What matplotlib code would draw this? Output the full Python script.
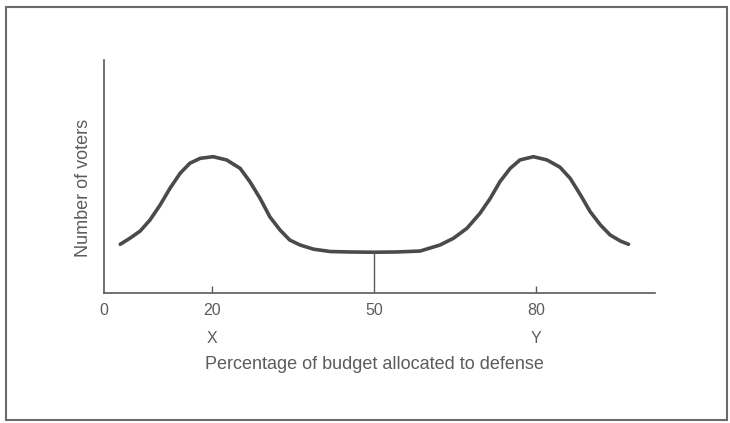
import matplotlib
matplotlib.use("Agg")
from matplotlib import pyplot as plt
from matplotlib.patches import Rectangle

# curve (x = % of budget, y = relative number of voters)
pct = [3.0, 4.8, 6.7, 8.5, 10.4, 12.2, 14.1, 15.9, 17.8, 20.2, 22.7, 25.2,
       27.0, 28.9, 30.7, 32.6, 34.4, 36.3, 38.8, 41.9, 45.6, 50.0, 54.1,
       58.5, 62.2, 64.7, 67.2, 69.6, 71.5, 73.3, 75.2, 77.0, 79.5, 82.0,
       84.4, 86.3, 88.2, 90.0, 91.9, 93.7, 95.6, 97.1]
voters = [20.9, 23.5, 26.6, 31.3, 37.8, 44.9, 51.4, 55.7, 57.8, 58.5, 57.1,
          53.5, 47.8, 40.6, 32.7, 27.0, 22.7, 20.6, 18.8, 17.8, 17.6, 17.5,
          17.6, 18.0, 20.6, 23.5, 27.8, 34.2, 40.6, 47.8, 53.5, 57.1, 58.5,
          57.1, 54.0, 49.2, 42.1, 34.9, 29.2, 24.9, 22.3, 20.9]
tick_pos = [0, 20, 50, 80]
tick_labels = ["0", "20", "50", "80"]
party_pos = [20, 80]
party_names = ["X", "Y"]
median = 50

plt.rcParams['font.family'] = ['Liberation Sans', 'DejaVu Sans']
txt = "#5c5c5c"
axc = "#5a5a5a"

fig = plt.figure(figsize=(7.3, 4.23), dpi=100)
fig.patches.append(Rectangle((6 / 730, 3 / 423), 721 / 730, 413 / 423,
                             transform=fig.transFigure, fill=False,
                             edgecolor="#6a6a6a", linewidth=1.5))

ax = fig.add_axes([104 / 730, 130 / 423, 551 / 730, 233 / 423])
ax.set_xlim(0, 102)
ax.set_ylim(0, 100)
ax.plot(pct, voters, color="#4a4a4a", linewidth=2.6,
        solid_capstyle="round", solid_joinstyle="round")
ax.vlines(median, 0, voters[pct.index(median)], color=axc, linewidth=1.0)
ax.vlines(party_pos, 0, 3, color=axc, linewidth=1.0)

for s in ["top", "right"]:
    ax.spines[s].set_visible(False)
for s in ["left", "bottom"]:
    ax.spines[s].set_color(axc)
    ax.spines[s].set_linewidth(1.2)

ax.set_yticks([])
ax.set_xticks(tick_pos)
ax.set_xticklabels(tick_labels, fontsize=11.5, color=txt)
ax.tick_params(axis="x", length=0, pad=7)

for p, n in zip(party_pos, party_names):
    ax.text(p, -19.5, n, ha="center", va="center", fontsize=11.5, color=txt)
ax.text(median, -30.5, "Percentage of budget allocated to defense",
        ha="center", va="center", fontsize=13, color=txt)
ax.set_ylabel("Number of voters", fontsize=13, color=txt)
ax.yaxis.set_label_coords(-0.022, 0.45)

fig.savefig("out.png", dpi=100)
